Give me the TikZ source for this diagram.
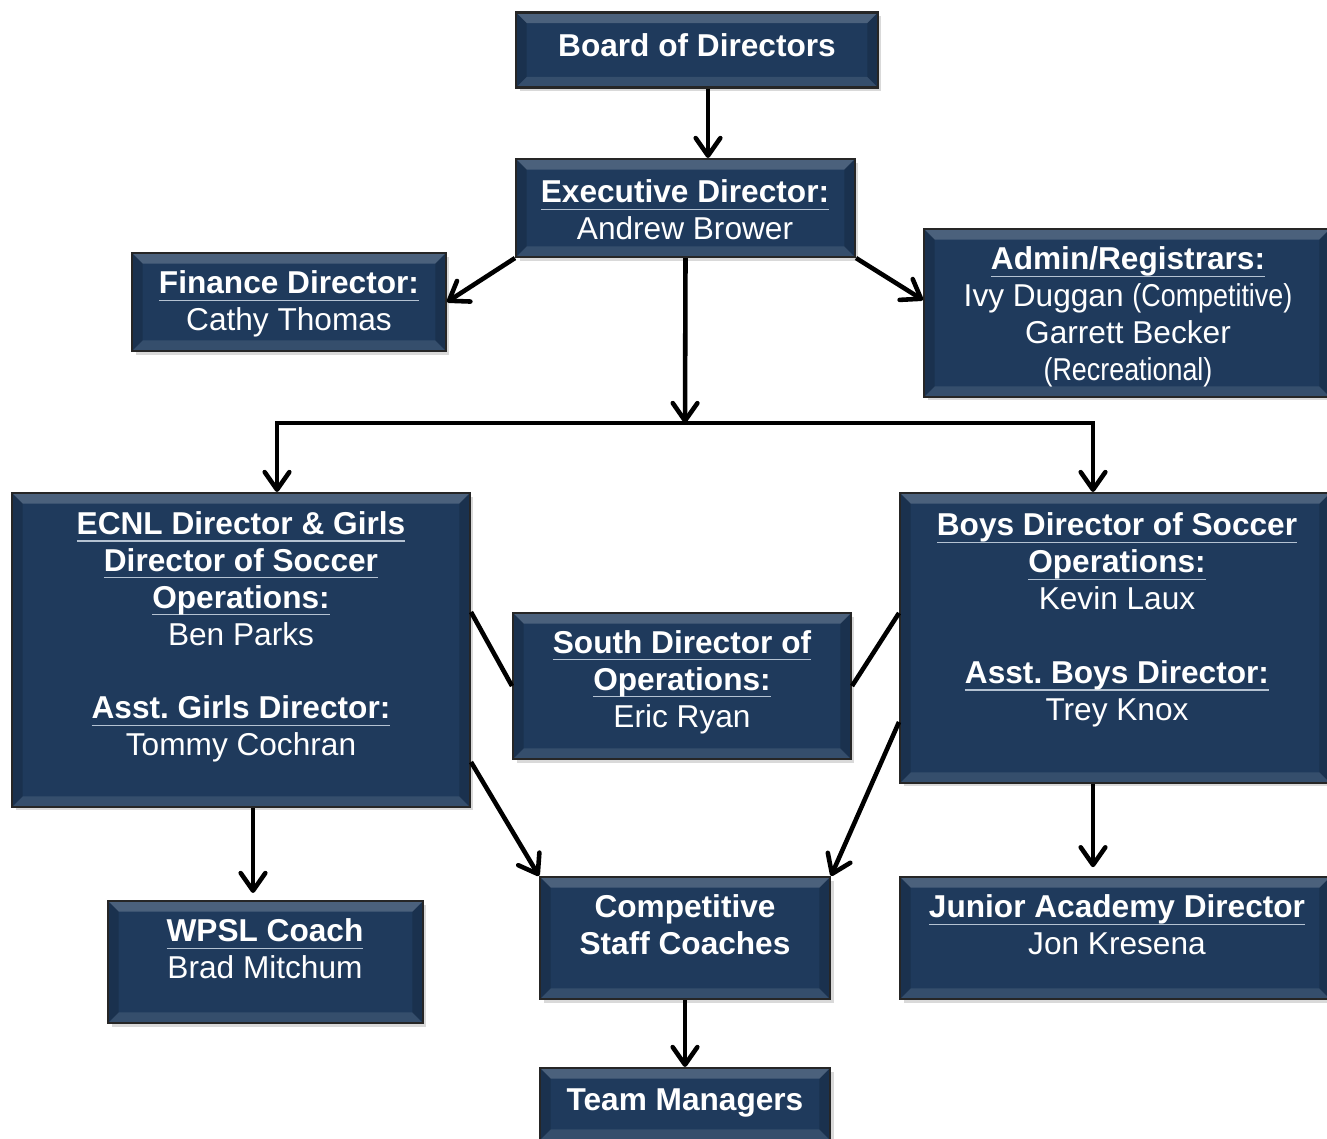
\documentclass[tikz,border=0pt]{standalone}
\usepackage{fontspec}
\setmainfont{Liberation Sans}
\newfontfamily\narrowfont[FakeStretch=0.85]{Liberation Sans}
\usepackage{xcolor}
\usepackage{tikz}
\usetikzlibrary{arrows.meta,shadows}
\definecolor{boxnavy}{HTML}{1F3A5C}
\definecolor{ulgray}{HTML}{B4C2D2}
\frenchspacing
\newsavebox{\hdbox}
\newcommand{\hd}[1]{\sbox{\hdbox}{\bfseries #1}%
  \rlap{\textcolor{ulgray}{\rule[-4pt]{\wd\hdbox}{0.7pt}}}\usebox{\hdbox}}
\newcommand{\narrow}[1]{{\narrowfont #1}}
\newcommand{\bevel}{%
  \coordinate (bnw) at (path picture bounding box.north west);
  \coordinate (bne) at (path picture bounding box.north east);
  \coordinate (bsw) at (path picture bounding box.south west);
  \coordinate (bse) at (path picture bounding box.south east);
  \fill[white,opacity=.2] (bnw) -- (bne) -- ([shift={(-6pt,-6pt)}]bne) -- ([shift={(6pt,-6pt)}]bnw) -- cycle;
  \fill[white,opacity=.1] (bsw) -- (bse) -- ([shift={(-6pt,6pt)}]bse) -- ([shift={(6pt,6pt)}]bsw) -- cycle;
  \fill[black,opacity=.15] (bnw) -- ([shift={(6pt,-6pt)}]bnw) -- ([shift={(6pt,6pt)}]bsw) -- (bsw) -- cycle;
  \fill[black,opacity=.15] (bne) -- ([shift={(-6pt,-6pt)}]bne) -- ([shift={(-6pt,6pt)}]bse) -- (bse) -- cycle;
}

\begin{document}
\begin{tikzpicture}[x=0.02cm,y=-0.02cm,
    orgbox/.style={draw=black!85,line width=1.2pt,fill=boxnavy,inner sep=0pt,
      path picture={\bevel},
      drop shadow={shadow xshift=2pt,shadow yshift=-2pt,opacity=.3}},
    orgtext/.style={text=white,align=center,inner sep=0pt,
      font=\fontsize{18}{21}\selectfont},
    arr/.style={line width=2.6pt,-{Straight Barb[length=10pt,width=14pt,round]}},
    link/.style={line width=2.6pt}]
  \useasboundingbox (0,0) rectangle (1327,1138);

  % boxes
  \node[orgbox,minimum width=7.24cm,minimum height=1.5cm] (board) at (697,50) {};
  \node[orgbox,minimum width=6.78cm,minimum height=1.96cm] (exec) at (685.5,208) {};
  \node[orgbox,minimum width=6.28cm,minimum height=1.96cm] (fin) at (289,302) {};
  \node[orgbox,minimum width=8.12cm,minimum height=3.36cm] (admin) at (1127,313) {};
  \node[orgbox,minimum width=9.16cm,minimum height=6.28cm] (ecnl) at (241,650) {};
  \node[orgbox,minimum width=6.76cm,minimum height=2.92cm] (south) at (682,686) {};
  \node[orgbox,minimum width=8.6cm,minimum height=5.8cm] (boys) at (1115,638) {};
  \node[orgbox,minimum width=6.3cm,minimum height=2.44cm] (wpsl) at (265.5,962) {};
  \node[orgbox,minimum width=5.8cm,minimum height=2.44cm] (comp) at (685,938) {};
  \node[orgbox,minimum width=8.6cm,minimum height=2.44cm] (junior) at (1115,938) {};
  \node[orgbox,minimum width=5.8cm,minimum height=1.44cm] (tm) at (685,1104) {};

  % texts
  \node[orgtext] (board-t) at (697,45) {\textbf{Board of Directors}};
  \node[orgtext] (exec-t) at (685,210) {\hd{Executive Director:}\\Andrew Brower};
  \node[orgtext] (fin-t) at (289,304) {\hd{Finance Director:}\\Cathy Thomas};
  \node[orgtext] (admin-t) at (1128,317) {\hd{Admin/Registrars:}\\
    Ivy Duggan \narrow{(Competitive)}\\Garrett Becker\\\narrow{(Recreational)}};
  \node[orgtext] (ecnl-t) at (241,637) {\hd{ECNL Director \& Girls}\\
    \hd{Director of Soccer}\\\hd{Operations:}\\Ben Parks\\[21pt]
    \hd{Asst. Girls Director:}\\Tommy Cochran};
  \node[orgtext] (south-t) at (682,682) {\hd{South Director of}\\
    \hd{Operations:}\\Eric Ryan};
  \node[orgtext] (boys-t) at (1117,620) {\hd{Boys Director of Soccer}\\
    \hd{Operations:}\\Kevin Laux\\[21pt]
    \hd{Asst. Boys Director:}\\Trey Knox};
  \node[orgtext] (wpsl-t) at (265,949) {\hd{WPSL Coach}\\Brad Mitchum};
  \node[orgtext] (comp-t) at (685,925) {\textbf{Competitive}\\\textbf{Staff Coaches}};
  \node[orgtext] (junior-t) at (1117,925) {\hd{Junior Academy Director}\\Jon Kresena};
  \node[orgtext] (tm-t) at (685,1103) {\textbf{Team Managers}};

  % connectors
  \coordinate (bus) at (685,423);
  \draw[arr] (708,0 |- board.south) -- (708,0 |- exec.north);
  \draw[arr] (exec.south west) -- (fin.east);
  \draw[arr] (exec.south east) -- (admin.west |- 0,300);
  \draw[arr] (exec.south) -- (bus);
  \draw[arr] (bus) -| (277,0 |- ecnl.north);
  \draw[arr] (bus) -| (1093,0 |- boys.north);
  \draw[link] (ecnl.east |- 0,612) -- (south.west);
  \draw[link] (boys.west |- 0,613) -- (south.east);
  \draw[arr] (ecnl.east |- 0,762) -- (comp.north west);
  \draw[arr] (boys.west |- 0,722) -- (comp.north east);
  \draw[arr,shorten >=4pt] (253,0 |- ecnl.south) -- (253,0 |- wpsl.north);
  \draw[arr,shorten >=5pt] (1093,0 |- boys.south) -- (1093,0 |- junior.north);
  \draw[arr] (comp.south) -- (tm.north);
\end{tikzpicture}
\end{document}
